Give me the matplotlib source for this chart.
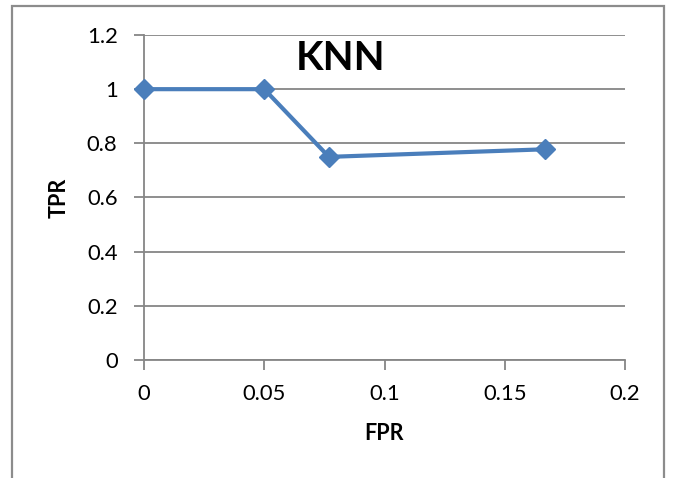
import matplotlib
matplotlib.use("Agg")
import matplotlib.pyplot as plt
from matplotlib.patches import Rectangle

# ROC points for the KNN classifier
fpr = [0.0, 0.05, 0.0769, 0.1667]
tpr = [1.0, 1.0, 0.75, 0.778]
x_ticks = [0, 0.05, 0.1, 0.15, 0.2]
x_tick_labels = ["0", "0.05", "0.1", "0.15", "0.2"]
y_ticks = [0, 0.2, 0.4, 0.6, 0.8, 1.0, 1.2]
y_tick_labels = ["0", "0.2", "0.4", "0.6", "0.8", "1", "1.2"]

plt.rcParams["font.family"] = ["Lato", "DejaVu Sans"]

W, H = 673, 478
fig = plt.figure(figsize=(W / 100, H / 100), dpi=100)
ax = fig.add_axes([144 / W, 1 - 360 / H, (625 - 144) / W, (360 - 35) / H])

grid_col = "#868686"
line_col = "#4A7EBB"

ax.plot(fpr, tpr, color=line_col, lw=3.0, marker="D", ms=10.5,
        markerfacecolor=line_col, markeredgecolor=line_col, zorder=3,
        clip_on=False)

ax.set_xlim(0, 0.2)
ax.set_ylim(0, 1.2)
ax.set_xticks(x_ticks)
ax.set_xticklabels(x_tick_labels)
ax.set_yticks(y_ticks)
ax.set_yticklabels(y_tick_labels)
ax.yaxis.grid(True, color=grid_col, lw=1.3)
ax.set_axisbelow(True)

for side in ("top", "right"):
    ax.spines[side].set_visible(False)
for side in ("left", "bottom"):
    ax.spines[side].set_color(grid_col)
    ax.spines[side].set_linewidth(1.3)

ax.tick_params(axis="both", direction="out", length=7, width=1.3,
               color=grid_col, labelsize=15.8, labelcolor="black")
ax.tick_params(axis="x", pad=10)
ax.tick_params(axis="y", pad=12)

ax.set_xlabel("FPR", fontsize=15.5, fontweight="bold", labelpad=14)
ax.set_ylabel("TPR", fontsize=15.5, fontweight="bold", labelpad=12)

fig.text(341 / W, 1 - 58 / H, "KNN", fontsize=29, fontweight="bold",
         ha="center", va="center")

# chart frame
fig.patches.append(Rectangle((12 / W, -0.05), (664 - 12) / W, 1 - 6 / H + 0.05,
                             transform=fig.transFigure, fill=False,
                             edgecolor="#8C8C8C", lw=1.6))

fig.savefig("out.png", dpi=100)
